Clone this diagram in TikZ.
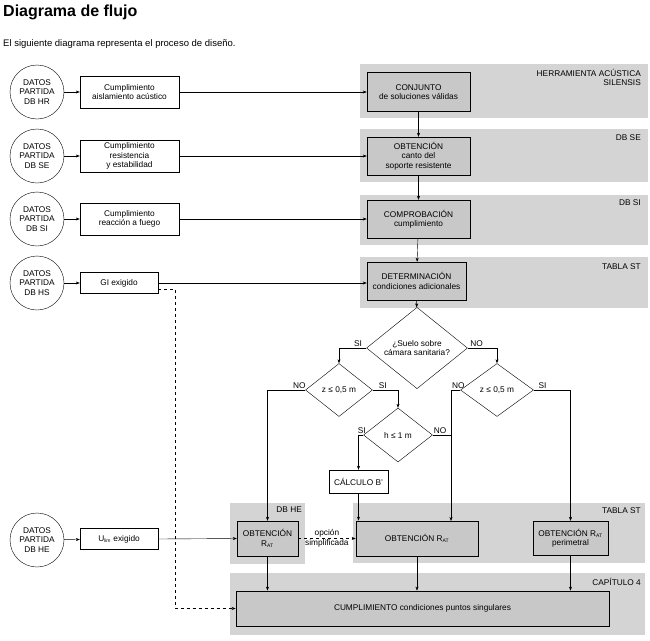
\documentclass[tikz,border=0pt]{standalone}
\usepackage{fontspec}
\setmainfont{Liberation Sans}
\usetikzlibrary{shapes.geometric,arrows.meta}
\definecolor{band}{HTML}{D4D4D4}
\definecolor{boxg}{HTML}{C8C8C8}
\begin{document}
\begin{tikzpicture}[x=1pt,y=-1pt,
  txt/.style={font=\fontsize{8.3}{9.3}\selectfont,align=center},
  circ/.style={txt,circle,draw,minimum size=54pt,inner sep=0pt},
  wbox/.style={txt,draw,fill=white,inner sep=0pt},
  gbox/.style={txt,draw,fill=boxg,inner sep=0pt},
  dia/.style={txt,diamond,draw,fill=white,inner sep=0pt},
  band/.style={fill=band,draw=none},
  lab/.style={font=\fontsize{8.3}{9.3}\selectfont,inner sep=1pt},
  ar/.style={-{Stealth[length=4pt,width=3pt]},thin},
  every path/.style={thin}]
\useasboundingbox (0,0) rectangle (650,640);
\node[anchor=west,font=\bfseries\fontsize{16}{18}\selectfont,inner sep=0] (title) at (3,12) {Diagrama de flujo};
\node[anchor=west,font=\fontsize{9.5}{11}\selectfont,inner sep=0] (sub) at (3,44) {El siguiente diagrama representa el proceso de diseño.};
% bands
\fill[band] (360,64) rectangle (648,118);
\fill[band] (360,129) rectangle (648,182);
\fill[band] (360,195) rectangle (648,245);
\fill[band] (360,257) rectangle (648,308);
\fill[band] (230,503) rectangle (305,564);
\fill[band] (353,503) rectangle (645,563);
\fill[band] (230,573) rectangle (645,635);
\node[lab,anchor=north east,align=right] (l1) at (642,68) {HERRAMIENTA ACÚSTICA\\SILENSIS};
\node[lab,anchor=north east] (l2) at (642,134) {DB SE};
\node[lab,anchor=north east] (l3) at (642,199) {DB SI};
\node[lab,anchor=north east] (l4) at (642,262) {TABLA ST};
\node[lab,anchor=north east] (l5) at (303,506) {DB HE};
\node[lab,anchor=north east] (l6) at (642,506) {TABLA ST};
\node[lab,anchor=north east] (l7) at (642,577) {CAPÍTULO 4};
% circles
\node[circ] (c1) at (37,92) {DATOS\\PARTIDA\\DB HR};
\node[circ] (c2) at (37,156) {DATOS\\PARTIDA\\DB SE};
\node[circ] (c3) at (37,219) {DATOS\\PARTIDA\\DB SI};
\node[circ] (c4) at (37,283) {DATOS\\PARTIDA\\DB HS};
\node[circ] (c5) at (37,540) {DATOS\\PARTIDA\\DB HE};
% left boxes
\node[wbox,minimum width=99pt,minimum height=32pt] (b1) at (129.5,92) {Cumplimiento\\aislamiento acústico};
\node[wbox,minimum width=99pt,minimum height=32pt] (b2) at (129.5,156) {Cumplimiento\\resistencia\\y estabilidad};
\node[wbox,minimum width=99pt,minimum height=32pt] (b3) at (129.5,219) {Cumplimiento\\reacción a fuego};
\node[wbox,minimum width=78pt,minimum height=21pt] (b4) at (119,283) {GI exigido};
\node[wbox,minimum width=78pt,minimum height=21pt] (b5) at (119,539) {U\textsubscript{\fontsize{5}{5}\selectfont lim} exigido};
% right boxes
\node[gbox,minimum width=103pt,minimum height=39pt] (r1) at (418.5,92) {CONJUNTO\\de soluciones válidas};
\node[gbox,minimum width=103pt,minimum height=38pt] (r2) at (418.5,156) {OBTENCIÓN\\canto del\\soporte resistente};
\node[gbox,minimum width=103pt,minimum height=38pt] (r3) at (418.5,219) {COMPROBACIÓN\\cumplimiento};
\node[gbox,minimum width=99pt,minimum height=38pt] (r4) at (416.5,281) {DETERMINACIÓN\\condiciones adicionales};
% diamonds
\node[dia,minimum width=101pt,minimum height=64pt] (d1) at (417,348) {¿Suelo sobre\\cámara sanitaria?};
\node[dia,minimum width=67pt,minimum height=53pt] (d2) at (339,390) {z ≤ 0,5 m};
\node[dia,minimum width=69pt,minimum height=54pt] (d3) at (398,435) {h ≤ 1 m};
\node[dia,minimum width=73pt,minimum height=53pt] (d4) at (497,390) {z ≤ 0,5 m};
\node[wbox,minimum width=59pt,minimum height=23pt] (cal) at (358.5,481.5) {CÁLCULO B'};
% bottom boxes
\node[gbox,minimum width=61pt,minimum height=35pt] (h1) at (267.5,538.5) {OBTENCIÓN\\R\textsubscript{\fontsize{5}{5}\selectfont AT}};
\node[gbox,minimum width=122pt,minimum height=35pt,line width=0.8pt] (h2) at (417,538.5) {OBTENCIÓN R\textsubscript{\fontsize{5}{5}\selectfont AT}};
\node[gbox,minimum width=75pt,minimum height=34pt] (h3) at (570.5,538) {OBTENCIÓN R\textsubscript{\fontsize{5}{5}\selectfont AT}\\perimetral};
\node[gbox,minimum width=373pt,minimum height=35pt,line width=0.8pt] (fin) at (422.5,608.5) {CUMPLIMIENTO condiciones puntos singulares};
% connectors left
\foreach \c/\b in {c1/b1,c2/b2,c3/b3,c4/b4,c5/b5} \draw[ar] (\c) -- (\b);
\draw[ar] (b1.east) -- (r1.west);
\draw[ar] (b2.east) -- (r2.west);
\draw[ar] (b3.east) -- (r3.west);
\draw[ar] (b4.east) -- (r4.west |- b4.east);
\draw[ar] (b5.east) -- (h1.west);
\draw[ar,dashed] (b4.east) ++(0,6) coordinate (g1) -- ++(17,0) |- (fin.west);
% chain
\draw[ar] (r1) -- (r2);
\draw[ar] (r2) -- (r3);
\draw[ar] (r3) -- (r4);
\draw[ar] (r4) -- (d1);
% decisions
\draw[ar] (d1.west) -| node[lab,pos=0.15,above] {SI} (d2.north);
\draw[ar] (d1.east) -| node[lab,pos=0.15,above] {NO} (d4.north);
\draw[ar] (d2.west) -| node[lab,pos=0.08,above] {NO} (h1.north);
\draw[ar] (d2.east) -| node[lab,pos=0.2,above] {SI} (d3.north);
\draw[ar] (d3.west) -| node[lab,pos=0.15,above] {SI} (cal.north);
\draw[ar] (cal.south) -- (cal.south |- h2.north);
\draw[ar] (d4.west) -| node[lab,pos=0.1,above] {NO} (451,521);
\draw (d3.east) -- node[lab,pos=0.4,above] {NO} (451,435);
\draw[ar] (d4.east) -| node[lab,pos=0.12,above] {SI} (h3.north);
\draw[ar,dashed] (h1.east) -- node[lab,above] {opción} node[lab,below] {simplificada} (h2.west);
\draw[ar] (h1.south) -- (h1.south |- fin.north);
\draw[ar] (h2.south) -- (h2.south |- fin.north);
\draw[ar] (h3.south) -- (h3.south |- fin.north);
\end{tikzpicture}
\end{document}
